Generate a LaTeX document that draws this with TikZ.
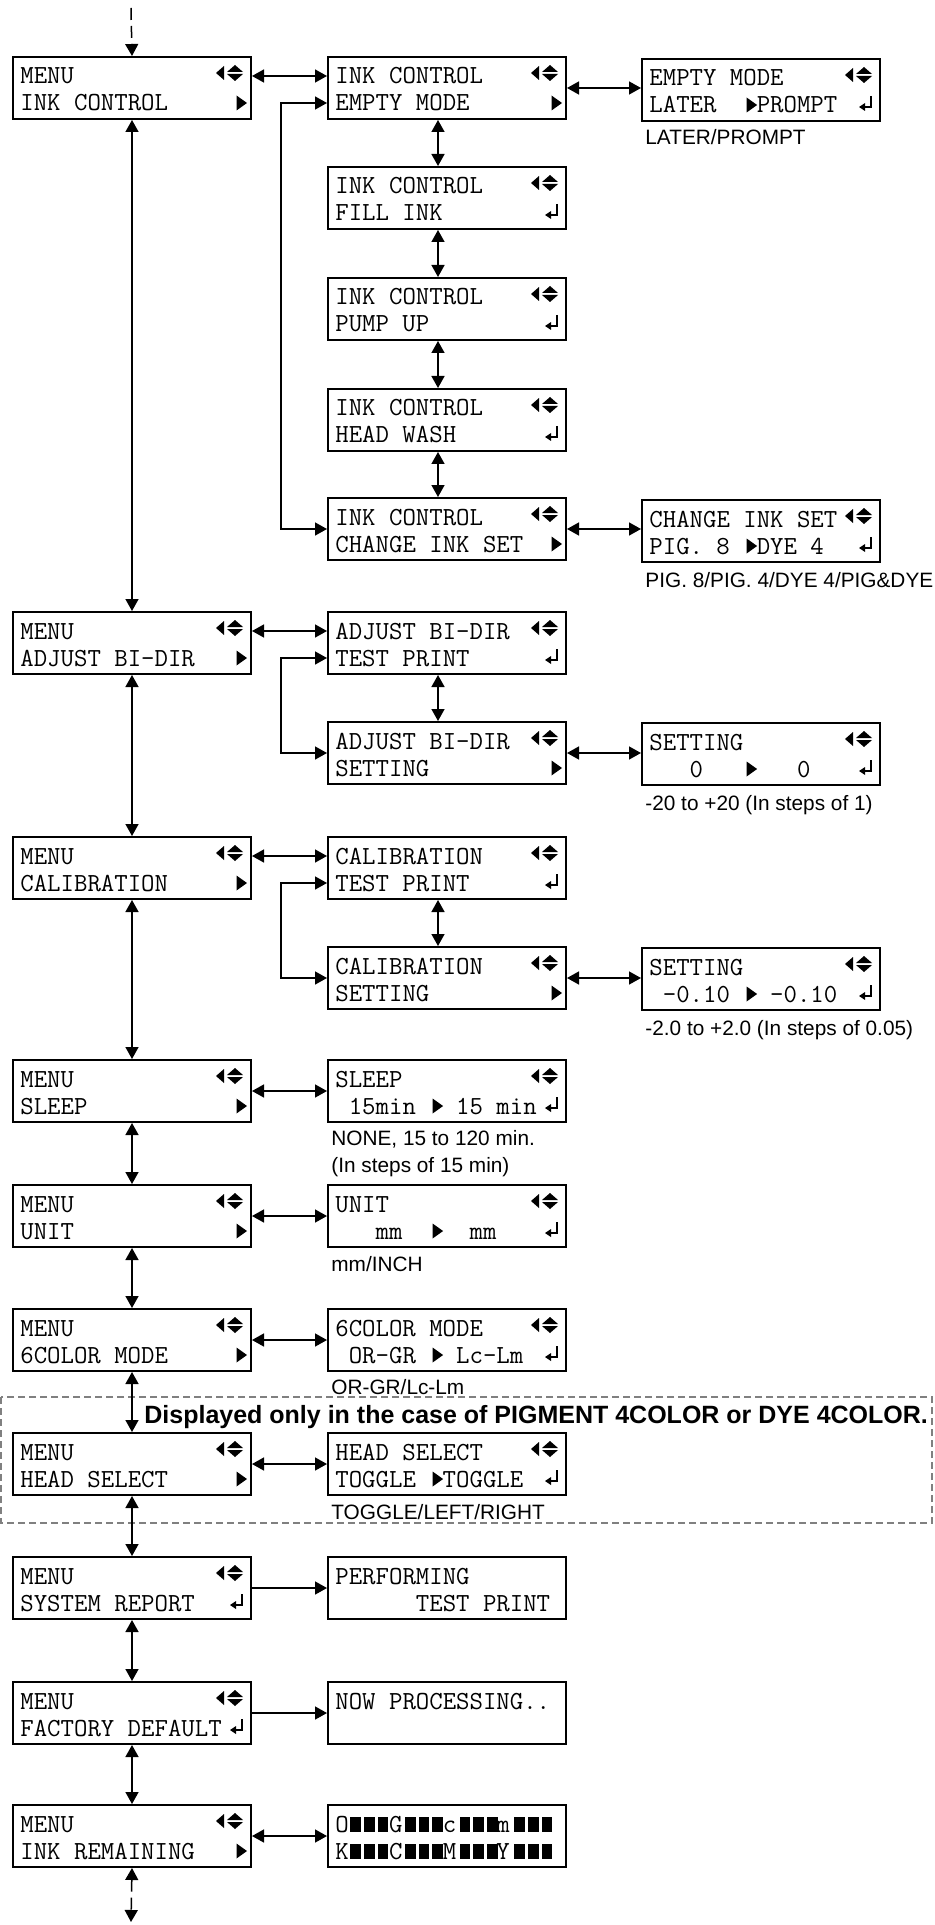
\documentclass[tikz,border=0pt]{standalone}
\usepackage{fontspec}
\setmainfont{Liberation Sans}
\usetikzlibrary{arrows.meta}

\begin{document}
\begin{tikzpicture}[
    x=0.5pt, y=-0.5pt,
    caja/.style={draw, line width=1pt, anchor=north west, inner sep=0pt,
      minimum width=119pt, minimum height=31pt},
    fila/.style={anchor=base west, inner sep=0pt,
      font=\ttfamily\fontsize{13.03}{14}\selectfont\frenchspacing},
    nota/.style={anchor=base west, inner sep=0pt,
      font=\fontsize{10.4}{13.5}\selectfont},
    aviso/.style={anchor=base west, inner sep=0pt,
      font=\bfseries\fontsize{12.5}{14}\selectfont},
    enlace/.style={line width=0.75pt,
      {Triangle[length=6pt,width=6.5pt]}-{Triangle[length=6pt,width=6.5pt]}},
    ida/.style={line width=0.75pt, -{Triangle[length=6pt,width=6.5pt]}},
    punteada/.style={dash pattern=on 6pt off 3pt},
    marco/.style={draw=black!50, line width=1pt, dash pattern=on 3.5pt off 2pt},
    nav/.pic={
      \fill (-36,17) -- (-28,10) -- (-28,24) -- cycle;
      \fill (-25,16) -- (-9,16) -- (-17,9) -- cycle;
      \fill (-25,18) -- (-9,18) -- (-17,25) -- cycle;
    },
    tri/.pic={\fill (-5,-7.5) -- (5.5,0) -- (-5,7.5) -- cycle;},
    ret/.pic={
      \draw[line width=0.7pt] (-10,38) -- (-10,49) -- (-17,49);
      \fill (-22,49) -- (-16,45) -- (-16,53) -- cycle;
    }
  ]
  % Todo en píxeles de la figura (935 x 1925), y hacia abajo.
  % Celda de la pantalla: 13.68 px; texto desde x+8.
  \useasboundingbox (0,0) rectangle (935,1925);

  % --- recuadro de las opciones condicionales ---
  \draw[marco] (1,1397) rectangle (932,1523);

  % --- pantallas: nombre/x/y/línea 1/línea 2 ---
  \foreach \n/\posx/\posy/\la/\lb in {
      mInk/12/56/MENU/INK~CONTROL,
      mAdj/12/611/MENU/ADJUST~BI-DIR,
      mCal/12/836/MENU/CALIBRATION,
      mSleep/12/1059/MENU/SLEEP,
      mUnit/12/1184/MENU/UNIT,
      mColor/12/1308/MENU/6COLOR~MODE,
      mHead/12/1432/MENU/HEAD~SELECT,
      mReport/12/1556/MENU/SYSTEM~REPORT,
      mDefault/12/1681/MENU/FACTORY~DEFAULT,
      mRemain/12/1804/MENU/INK~REMAINING,
      iEmpty/327/56/INK~CONTROL/EMPTY~MODE,
      iFill/327/166/INK~CONTROL/FILL~INK,
      iPump/327/277/INK~CONTROL/PUMP~UP,
      iWash/327/388/INK~CONTROL/HEAD~WASH,
      iSet/327/497/INK~CONTROL/CHANGE~INK~SET,
      aTest/327/611/ADJUST~BI-DIR/TEST~PRINT,
      aSet/327/721/ADJUST~BI-DIR/SETTING,
      cTest/327/836/CALIBRATION/TEST~PRINT,
      cSet/327/946/CALIBRATION/SETTING,
      vSleep/327/1059/SLEEP/~15min~~~15~min,
      vUnit/327/1184/UNIT/~~~mm~~~~~mm,
      vColor/327/1308/6COLOR~MODE/~OR-GR~~~Lc-Lm,
      vHead/327/1432/HEAD~SELECT/TOGGLE~~TOGGLE,
      vReport/327/1556/PERFORMING/~~~~~~TEST~PRINT,
      vDefault/327/1681/{NOW~PROCESSING..}/{},
      vRemain/327/1804/O~~~G~~~c~~~m/K~~~C~~~M~~~Y,
      rEmpty/641/58/EMPTY~MODE/LATER~~~PROMPT,
      rSet/641/499/CHANGE~INK~SET/PIG.~8~~DYE~4,
      rAdj/641/722/SETTING/~~~0~~~~~~~0,
      rCal/641/947/SETTING/~-0.10~~~-0.10%
    }{
    \node[caja] (\n) at (\posx,\posy) {};
    \node[fila] (\n-a) at ([shift={(8,28)}]\n.north west) {\la};
    \node[fila] (\n-b) at ([shift={(8,55)}]\n.north west) {\lb};
  }

  % --- símbolos de las pantallas ---
  \foreach \n in {mInk, mAdj, mCal, mSleep, mUnit, mColor, mHead, mReport,
      mDefault, mRemain, iEmpty, iFill, iPump, iWash, iSet, aTest, aSet,
      cTest, cSet, vSleep, vUnit, vColor, vHead, rEmpty, rSet, rAdj, rCal}{
    \pic at (\n.north east) {nav};
  }
  \foreach \n in {mInk, mAdj, mCal, mSleep, mUnit, mColor, mHead, mRemain,
      iEmpty, iSet, aSet, cSet}{
    \pic at ([shift={(-10.5,47)}]\n.north east) {tri};
  }
  \foreach \n in {mReport, mDefault, iFill, iPump, iWash, aTest, cTest,
      vSleep, vUnit, vColor, vHead, rEmpty, rSet, rAdj, rCal}{
    \pic at (\n.north east) {ret};
  }
  % valor actual -> valor nuevo: siempre en la celda 7
  \foreach \n in {vSleep, vUnit, vColor, vHead, rEmpty, rSet, rAdj, rCal}{
    \pic at ([shift={(110.6,47)}]\n.north west) {tri};
  }
  % --- barras de tinta restante ---
  \foreach \k in {1,2,3,5,6,7,9,10,11,13,14,15}{
    \fill ([shift={({8+13.68*\k+1.5},13)}]vRemain.north west)
      rectangle ([shift={({8+13.68*(\k+1)-1.5},28)}]vRemain.north west);
    \fill ([shift={({8+13.68*\k+1.5},40)}]vRemain.north west)
      rectangle ([shift={({8+13.68*(\k+1)-1.5},55)}]vRemain.north west);
  }

  % --- columna del menú ---
  \coordinate (entrada) at (131,8);
  \coordinate (salida) at (131,1922);
  \draw[ida, punteada] (entrada) -- (mInk.north);
  \foreach \a/\b in {mInk/mAdj, mAdj/mCal, mCal/mSleep, mSleep/mUnit,
      mUnit/mColor, mColor/mHead, mHead/mReport, mReport/mDefault,
      mDefault/mRemain}{
    \draw[enlace] (\a.south) -- (\b.north);
  }
  \draw[enlace, punteada] (mRemain.south) -- (salida);

  % --- submenús ---
  \foreach \a/\b in {iEmpty/iFill, iFill/iPump, iPump/iWash, iWash/iSet,
      aTest/aSet, cTest/cSet}{
    \draw[enlace] ([xshift=-4.5pt]\a.south) -- ([xshift=-4.5pt]\b.north);
  }
  \foreach \a/\b in {mInk/iEmpty, mAdj/aTest, mCal/cTest}{
    \draw[enlace] ([yshift=6pt]\a.east) -- ([yshift=6pt]\b.west);
  }
  \foreach \a/\b in {mSleep/vSleep, mUnit/vUnit, mColor/vColor,
      mHead/vHead, mRemain/vRemain}{
    \draw[enlace] (\a.east) -- (\b.west);
  }
  \draw[ida] (mReport.east) -- (vReport.west);
  \draw[ida] (mDefault.east) -- (vDefault.west);
  % vuelta del último submenú al primero
  \foreach \a/\b in {iEmpty/iSet, aTest/aSet, cTest/cSet}{
    \draw[enlace] ([yshift=-7.5pt]\a.west) -- ++(-46,0) |- (\b.west);
  }
  \foreach \a/\b in {iEmpty/rEmpty, iSet/rSet, aSet/rAdj, cSet/rCal}{
    \draw[enlace] (\a.east) -- (\a.east -| \b.west);
  }

  % --- rangos de valores ---
  \node[nota] (nEmpty) at ([shift={(4,23)}]rEmpty.south west) {LATER/PROMPT};
  \node[nota] (nSet) at ([shift={(4,24)}]rSet.south west) {PIG. 8/PIG. 4/DYE 4/PIG\&DYE};
  \node[nota] (nAdj) at ([shift={(4,24)}]rAdj.south west) {-20 to +20 (In steps of 1)};
  \node[nota] (nCal) at ([shift={(4,24)}]rCal.south west) {-2.0 to +2.0 (In steps of 0.05)};
  \node[nota] (nSleep) at ([shift={(4,22)}]vSleep.south west) {NONE, 15 to 120 min.};
  \node[nota] (nPasos) at ([shift={(4,49)}]vSleep.south west) {(In steps of 15 min)};
  \node[nota] (nUnit) at ([shift={(4,23)}]vUnit.south west) {mm/INCH};
  \node[nota] (nColor) at ([shift={(4,22)}]vColor.south west) {OR-GR/Lc-Lm};
  \node[nota] (nHead) at ([shift={(4,23)}]vHead.south west) {TOGGLE/LEFT/RIGHT};
  \node[aviso] (solo) at (144,1423) {Displayed only in the case of PIGMENT 4COLOR or DYE 4COLOR.};
\end{tikzpicture}
\end{document}
